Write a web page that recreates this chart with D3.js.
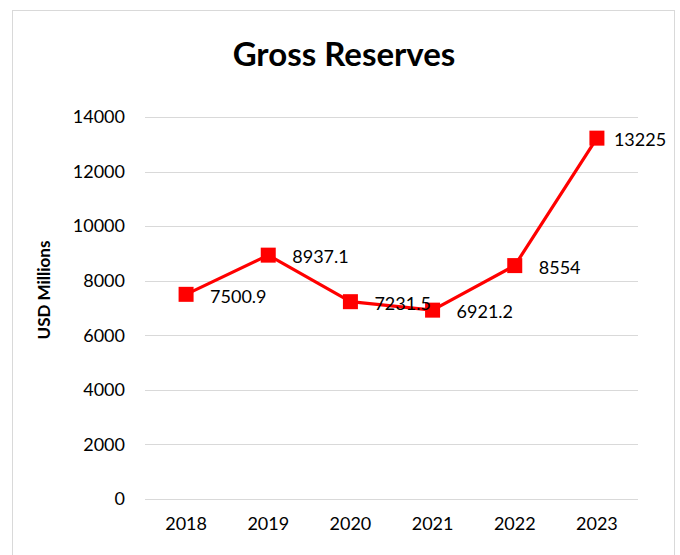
<!DOCTYPE html>
<html>
<head>
<meta charset="utf-8">
<script src="https://cdn.jsdelivr.net/npm/d3@7"></script>
<style>
  body { margin: 0; background: #fff; }
  svg { display: block; font-family: Lato, "Open Sans", sans-serif; }
</style>
</head>
<body>
<svg id="chart"></svg>
<script>
const years = ["2018", "2019", "2020", "2021", "2022", "2023"]
const reserves = [7500.9, 8937.1, 7231.5, 6921.2, 8554, 13225]
const yTicks = [0, 2000, 4000, 6000, 8000, 10000, 12000, 14000]

const width = 680
const height = 555
const margin = {top: 117, right: 42, bottom: 56, left: 145}

const svg = d3.select("#chart")
    .attr("width", width)
    .attr("height", height)

// chart frame
svg.append("rect")
    .attr("x", 12.5)
    .attr("y", 10.5)
    .attr("width", 662)
    .attr("height", 560)
    .attr("fill", "#fff")
    .attr("stroke", "#d9d9d9")

const x = d3.scaleBand()
    .domain(years)
    .range([margin.left, width - margin.right])

const y = d3.scaleLinear()
    .domain([0, 14000])
    .range([height - margin.bottom, margin.top])

// gridlines
svg.append("g")
    .selectAll("line")
    .data(yTicks)
    .join("line")
    .attr("x1", margin.left)
    .attr("x2", width - margin.right)
    .attr("y1", d => Math.round(y(d)) + 0.5)
    .attr("y2", d => Math.round(y(d)) + 0.5)
    .attr("stroke", "#d9d9d9")
    .attr("stroke-width", 1)

// y axis labels
const yAxis = svg.append("g")
    .attr("transform", `translate(${margin.left},0)`)
    .call(d3.axisLeft(y).tickValues(yTicks).tickFormat(d3.format("d")).tickSize(0).tickPadding(20))
yAxis.select(".domain").remove()
yAxis.selectAll("text")
    .attr("font-family", "Lato, sans-serif")
    .attr("font-size", 18)
    .attr("fill", "#000")

// x axis labels
const xAxis = svg.append("g")
    .attr("transform", `translate(0,${height - margin.bottom})`)
    .call(d3.axisBottom(x).tickSize(0).tickPadding(18))
xAxis.select(".domain").remove()
xAxis.selectAll("text")
    .attr("font-family", "Lato, sans-serif")
    .attr("font-size", 18)
    .attr("fill", "#000")

// title
svg.append("text")
    .attr("x", 344)
    .attr("y", 66)
    .attr("text-anchor", "middle")
    .attr("font-size", 33)
    .attr("font-weight", "bold")
    .text("Gross Reserves")

// y axis title
svg.append("text")
    .attr("transform", "translate(50,290) rotate(-90)")
    .attr("text-anchor", "middle")
    .attr("font-size", 17)
    .attr("font-weight", "bold")
    .text("USD Millions")

const cx = d => x(d) + x.bandwidth() / 2

const line = d3.line()
    .x((d, i) => cx(years[i]))
    .y(d => y(d))

svg.append("path")
    .datum(reserves)
    .attr("d", line)
    .attr("fill", "none")
    .attr("stroke", "#ff0000")
    .attr("stroke-width", 3.2)
    .attr("stroke-linejoin", "round")

const ms = 15
svg.append("g")
    .selectAll("rect")
    .data(reserves)
    .join("rect")
    .attr("x", (d, i) => cx(years[i]) - ms / 2)
    .attr("y", d => y(d) - ms / 2)
    .attr("width", ms)
    .attr("height", ms)
    .attr("fill", "#ff0000")

// data labels, right of each marker
svg.append("g")
    .selectAll("text")
    .data(reserves)
    .join("text")
    .attr("x", (d, i) => cx(years[i]) + (i === reserves.length - 1 ? 17 : 24))
    .attr("y", d => y(d) + 2)
    .attr("dy", "0.35em")
    .attr("font-size", 18)
    .attr("fill", "#000")
    .text(d => d)
</script>
</body>
</html>
